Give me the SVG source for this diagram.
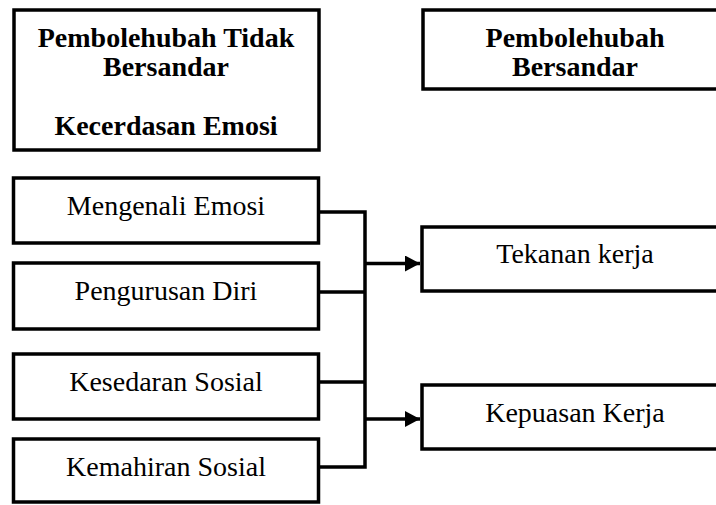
<svg xmlns="http://www.w3.org/2000/svg" width="716" height="505" viewBox="0 0 716 505">
<style>
.box{fill:#fff;stroke:#000;stroke-width:3.5}
.t{font-family:"Liberation Serif","Times New Roman",serif;font-size:28px;fill:#000;text-anchor:middle}
.b{font-weight:bold}
.c{fill:none;stroke:#000;stroke-width:3.5}
</style>
<defs>
<marker id="arr" markerUnits="userSpaceOnUse" markerWidth="16" markerHeight="16" refX="15" refY="8" orient="auto">
<path d="M0,0 L15,8 L0,16 Z" fill="#000"/>
</marker>
</defs>
<rect width="716" height="505" fill="#fff"/>
<g id="pembolehubah-tidak-bersandar">
<rect class="box" x="14" y="10" width="305" height="140"/>
<text class="t b" x="166" y="47">Pembolehubah Tidak</text>
<text class="t b" x="166" y="76">Bersandar</text>
<text class="t b" x="166" y="135">Kecerdasan Emosi</text>
</g>
<g id="pembolehubah-bersandar">
<rect class="box" x="423" y="10" width="306" height="79"/>
<text class="t b" x="575" y="47">Pembolehubah</text>
<text class="t b" x="575" y="76">Bersandar</text>
</g>
<g id="mengenali-emosi">
<rect class="box" x="13.5" y="178" width="305" height="65"/>
<text class="t" x="166" y="215">Mengenali Emosi</text>
</g>
<g id="pengurusan-diri">
<rect class="box" x="13.5" y="263" width="305" height="66"/>
<text class="t" x="166" y="300">Pengurusan Diri</text>
</g>
<g id="kesedaran-sosial">
<rect class="box" x="13.5" y="354" width="305" height="65"/>
<text class="t" x="166" y="391">Kesedaran Sosial</text>
</g>
<g id="kemahiran-sosial">
<rect class="box" x="13.5" y="439" width="305" height="63"/>
<text class="t" x="166" y="476">Kemahiran Sosial</text>
</g>
<g id="tekanan-kerja">
<rect class="box" x="422" y="227" width="306" height="64"/>
<text class="t" x="575" y="263">Tekanan kerja</text>
</g>
<g id="kepuasan-kerja">
<rect class="box" x="422" y="385" width="306" height="64"/>
<text class="t" x="575" y="422">Kepuasan Kerja</text>
</g>
<g id="connectors">
<path class="c" d="M320,212 H365 M320,292 H365 M320,382 H365 M320,467 H365 M365,210.25 V468.75"/>
<path class="c" d="M365,263.5 H420" marker-end="url(#arr)"/>
<path class="c" d="M365,419 H420" marker-end="url(#arr)"/>
</g>
</svg>
